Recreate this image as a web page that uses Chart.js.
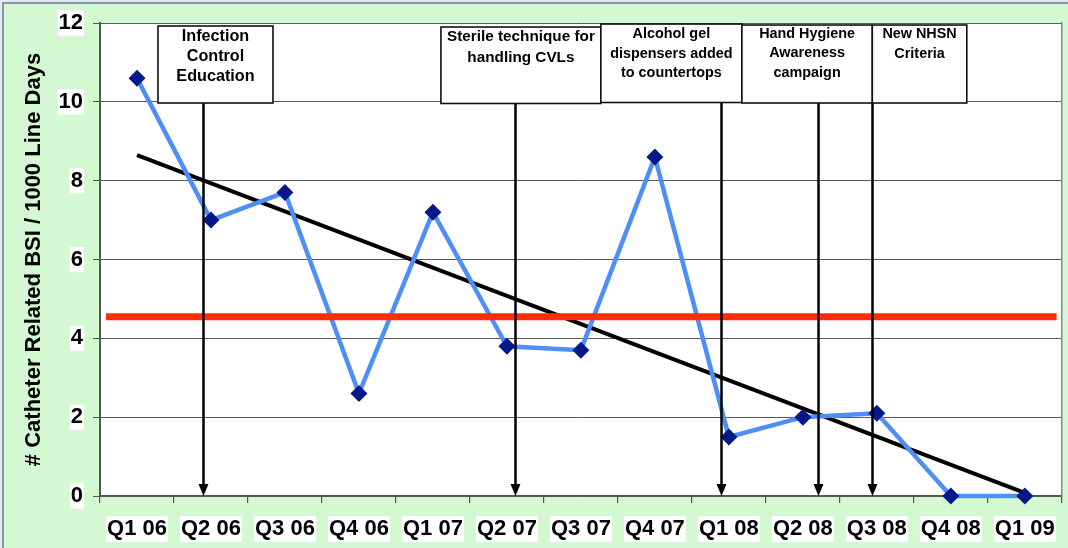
<!DOCTYPE html>
<html>
<head>
<meta charset="utf-8">
<script src="https://cdn.jsdelivr.net/npm/chart.js@4.4.1/dist/chart.umd.min.js"></script>
<style>
  html, body { margin: 0; padding: 0; background: #e2eaf2; }
  #wrap { position: relative; width: 1068px; height: 548px; overflow: hidden; }
  #c { position: absolute; left: 0; top: 0; background: #d4f8d2; }
  .edge { position: absolute; pointer-events: none; }
</style>
</head>
<body>
<div id="wrap">
  <canvas id="c" width="1068" height="548"></canvas>
  <div class="edge" style="left:0;top:0;width:1068px;height:2px;background:#e2eaf2"></div>
  <div class="edge" style="left:0;top:0;width:2px;height:548px;background:#e2eaf2"></div>
  <div class="edge" style="left:2px;top:2px;width:1066px;height:2px;background:#8595aa"></div>
  <div class="edge" style="left:2px;top:2px;width:2px;height:546px;background:#8595aa"></div>
</div>
<script>
// ---------- data ----------
const quarters = ['Q1 06','Q2 06','Q3 06','Q4 06','Q1 07','Q2 07','Q3 07','Q4 07','Q1 08','Q2 08','Q3 08','Q4 08','Q1 09'];
const bsiRates = [10.6, 7.0, 7.7, 2.6, 7.2, 3.8, 3.7, 8.6, 1.5, 2.0, 2.1, 0, 0];
const yTicks = [0, 2, 4, 6, 8, 10, 12];
const baselineValue = 4.55;
const trendStart = 8.65;   // value of trend line at Q1 06
const trendEnd = 0.08;     // value of trend line at Q1 09
const eventLabels = [
  ['Infection', 'Control', 'Education'],
  ['Sterile technique for', 'handling CVLs'],
  ['Alcohol gel', 'dispensers added', 'to countertops'],
  ['Hand Hygiene', 'Awareness', 'campaign'],
  ['New NHSN', 'Criteria']
];
const eventQuarter = [0.892, 5.108, 7.899, 9.209, 9.932]; // where each arrow lands on the quarter axis

// ---------- layout / style (not data) ----------
const FONT = "'Liberation Sans', Arial, Helvetica, sans-serif";
const eventBoxes = [
  { from: 0.284, to: 1.838, top: 11.924, bottom: 9.970, size: 16.2, first: 11,  lh: 20   },
  { from: 4.108, to: 6.270, top: 11.898, bottom: 9.958, size: 15.3, first: 9.5, lh: 21.5 },
  { from: 6.270, to: 8.176, top: 11.974, bottom: 9.983, size: 14.4, first: 10,  lh: 19.7 },
  { from: 8.176, to: 9.939, top: 11.949, bottom: 9.970, size: 14.4, first: 9,   lh: 19.5 },
  { from: 9.939, to: 11.216, top: 11.949, bottom: 9.970, size: 14.4, first: 9.5, lh: 20  }
];
const baselineSpan = [-0.42, 12.43];

const plotBackground = {
  id: 'plotBackground',
  beforeDraw(chart) {
    const { ctx, chartArea: a } = chart;
    ctx.save();
    ctx.fillStyle = '#ffffff';
    ctx.fillRect(a.left, a.top, a.right - a.left, a.bottom - a.top);
    ctx.restore();
  }
};

const eventsPlugin = {
  id: 'events',
  afterDatasetsDraw(chart) {
    const ctx = chart.ctx;
    const xs = chart.scales.xr, ys = chart.scales.y;
    const y0 = ys.getPixelForValue(0);
    ctx.save();
    eventLabels.forEach((lines, i) => {
      const b = eventBoxes[i];
      const bt = ys.getPixelForValue(b.bottom);
      const ax = Math.round(xs.getPixelForValue(eventQuarter[i])) + 0.5;
      ctx.strokeStyle = '#000';
      ctx.fillStyle = '#000';
      ctx.lineWidth = 2.5;
      ctx.beginPath();
      ctx.moveTo(ax, bt);
      ctx.lineTo(ax, y0 - 10);
      ctx.stroke();
      ctx.beginPath();
      ctx.moveTo(ax - 5, y0 - 12);
      ctx.lineTo(ax + 5, y0 - 12);
      ctx.lineTo(ax, y0);
      ctx.closePath();
      ctx.fill();
    });
    eventLabels.forEach((lines, i) => {
      const b = eventBoxes[i];
      const l = xs.getPixelForValue(b.from), r = xs.getPixelForValue(b.to);
      const t = ys.getPixelForValue(b.top), bt = ys.getPixelForValue(b.bottom);
      ctx.fillStyle = '#ffffff';
      ctx.fillRect(l, t, r - l, bt - t);
      ctx.strokeStyle = '#111';
      ctx.lineWidth = 1.6;
      ctx.strokeRect(l, t, r - l, bt - t);
      ctx.fillStyle = '#000';
      ctx.font = 'bold ' + b.size + 'px ' + FONT;
      ctx.textAlign = 'center';
      ctx.textBaseline = 'middle';
      lines.forEach((s, k) => {
        ctx.fillText(s, (l + r) / 2, t + b.first + k * b.lh);
      });
    });
    ctx.restore();
  }
};

new Chart(document.getElementById('c'), {
  type: 'line',
  data: {
    labels: quarters,
    datasets: [
      {
        label: 'BSI rate',
        data: bsiRates,
        xAxisID: 'x',
        clip: false,
        borderColor: '#4d8ef8',
        borderWidth: 4.5,
        pointStyle: 'rectRot',
        pointRadius: 8.5,
        pointHoverRadius: 8.5,
        pointBackgroundColor: '#04188a',
        pointBorderColor: '#04188a',
        pointBorderWidth: 0,
        tension: 0,
        order: 2
      },
      {
        label: 'Baseline',
        data: [{ x: baselineSpan[0], y: baselineValue }, { x: baselineSpan[1], y: baselineValue }],
        xAxisID: 'xr',
        borderColor: '#ff2e05',
        borderWidth: 7,
        pointRadius: 0,
        order: 1
      },
      {
        label: 'Trend',
        data: [{ x: 0, y: trendStart }, { x: quarters.length - 1, y: trendEnd }],
        xAxisID: 'xr',
        borderColor: '#000000',
        borderWidth: 4,
        pointRadius: 0,
        order: 3
      }
    ]
  },
  options: {
    responsive: false,
    animation: false,
    devicePixelRatio: 1,
    layout: { autoPadding: false, padding: { top: 23, left: 0, right: 0, bottom: 0 } },
    plugins: { legend: { display: false }, tooltip: { enabled: false } },
    scales: {
      x: {
        type: 'category',
        offset: true,
        grid: { display: true, drawOnChartArea: false, offset: true, tickLength: 7, color: '#555', lineWidth: 1.2 },
        border: { display: true, color: '#555', width: 1.5 },
        ticks: {
          color: '#000',
          font: { family: FONT, size: 22, weight: 'bold', lineHeight: 1.18 },
          padding: 13,
          maxRotation: 0,
          autoSkip: false,
          showLabelBackdrop: true,
          backdropColor: '#ffffff',
          backdropPadding: { top: 0, bottom: 0, left: 1, right: 1 }
        },
        afterFit(s) { s.height = 52; }
      },
      xr: { type: 'linear', display: false, min: -0.5, max: quarters.length - 0.5 },
      y: {
        min: 0,
        max: 12,
        afterBuildTicks(s) { s.ticks = yTicks.map(v => ({ value: v })); },
        grid: { color: '#5a5a5a', lineWidth: 1, tickLength: 7, tickColor: '#555' },
        border: { display: true, color: '#555', width: 2 },
        ticks: {
          color: '#000',
          font: { family: FONT, size: 22, weight: 'bold', lineHeight: 1.15 },
          padding: 10,
          showLabelBackdrop: true,
          backdropColor: '#ffffff',
          backdropPadding: { top: 0, bottom: 0, left: 1, right: 1 }
        },
        title: {
          display: true,
          text: '# Catheter Related BSI / 1000 Line Days',
          color: '#000',
          font: { family: FONT, size: 22, weight: 'bold', lineHeight: 1.2 },
          padding: { top: 21, bottom: 0 }
        },
        afterFit(s) { s.width = 100; }
      },
      y2: {
        position: 'right',
        min: 0,
        max: 12,
        grid: { display: false },
        ticks: { display: false },
        border: { display: true, color: '#888', width: 1.5 },
        afterFit(s) { s.width = 6; }
      }
    }
  },
  plugins: [plotBackground, eventsPlugin]
});
</script>
</body>
</html>
